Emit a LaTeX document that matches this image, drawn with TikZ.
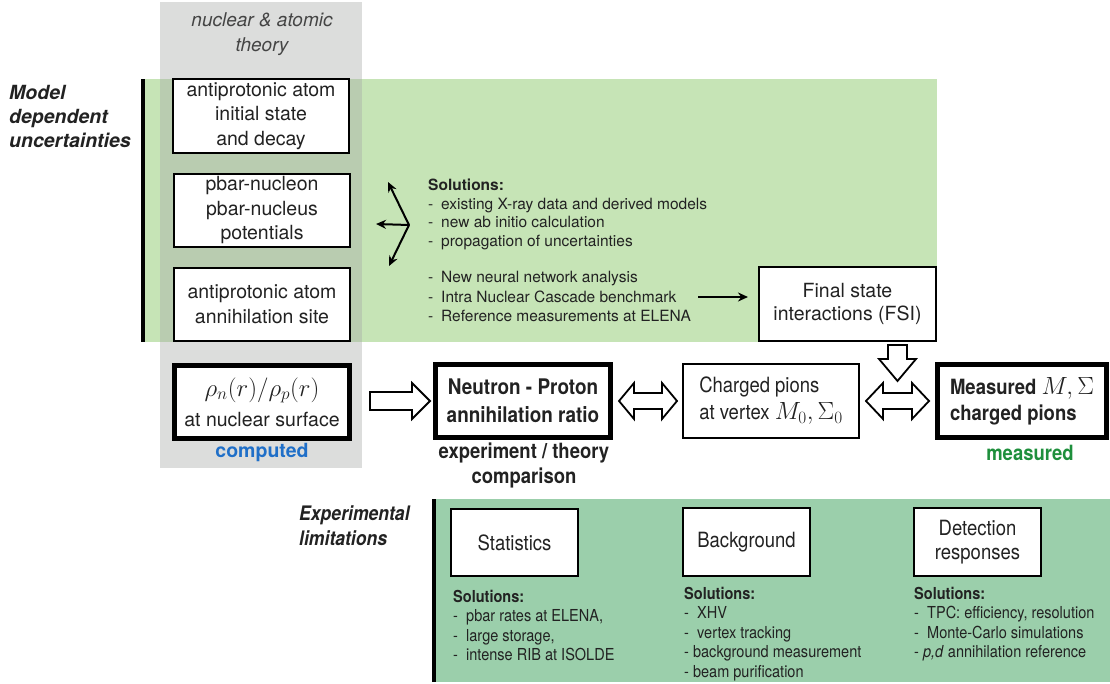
\documentclass[tikz,border=0pt]{standalone}
\usepackage{fontspec}
\setmainfont{TeX Gyre Heros}
\newfontfamily\narrowfont[FakeStretch=0.88]{TeX Gyre Heros}
\usetikzlibrary{arrows.meta,calc}
\definecolor{greyc}{HTML}{DCDDDC}
\definecolor{greentop}{HTML}{C6E4B6}
\definecolor{overlapc}{HTML}{B9CCB0}
\definecolor{greenbot}{HTML}{9BCFAB}
\definecolor{compblue}{HTML}{1F6FC8}
\definecolor{measgreen}{HTML}{1E8F3C}
\definecolor{txt}{HTML}{222222}
\definecolor{theorytxt}{HTML}{444444}
\newcommand\setfs[2]{\fontsize{#1}{#2}\selectfont}
\newcommand\dashitem[1]{\makebox[13pt][l]{-}#1}
\tikzset{
  thinbox/.style={draw=black, line width=2pt, fill=white, inner sep=0pt, align=center, text=txt},
  thickbox/.style={draw=black, line width=5pt, fill=white, inner sep=0pt, align=center, text=txt},
  blk/.style={draw=black, line width=1.8pt, fill=white, line join=miter},
  thinarr/.style={line width=2pt, -{Stealth[length=10pt,width=9pt]}},
  lbl/.style={inner sep=0pt, text=txt}
}
\begin{document}
\begin{tikzpicture}[x=1pt,y=-1pt]
\useasboundingbox (0,0) rectangle (1110,684);
% backgrounds
\fill[greyc] (160,2) rectangle (362,468);
\fill[greentop] (144,79) rectangle (937,342);
\fill[overlapc] (160,79) rectangle (362,342);
\fill[black] (141,79) rectangle (145,342);
\fill[greenbot] (436,499) rectangle (1110,682);
\fill[black] (432,499) rectangle (436,682);

% left labels
\node[lbl, anchor=west, align=left, font=\setfs{19.5}{24}\bfseries\itshape] (mdu) at (9,116) {Model\\dependent\\uncertainties};
\node[lbl, align=center, text=theorytxt, font=\setfs{19}{25}\itshape] (nat) at (262,34) {nuclear \& atomic\\theory};

% theory boxes
\node[thinbox, minimum width=176, minimum height=74, font=\setfs{19.5}{24.5}] (b1) at (261,116) {antiprotonic atom\\initial state\\and decay};
\node[thinbox, minimum width=176, minimum height=73, font=\setfs{19.5}{24.5}] (b2) at (262,210.5) {pbar-nucleon\\pbar-nucleus\\potentials};
\node[thinbox, minimum width=176, minimum height=73, font=\setfs{19.5}{24.5}] (b3) at (262,304.5) {antiprotonic atom\\annihilation site};
\node[thickbox, minimum width=175, minimum height=73, font=\setfs{19.5}{30}] (rho) at (262,402) {\fontsize{25}{30}\selectfont$\rho_n(r)/\rho_p(r)$\\at nuclear surface};
\node[lbl, text=compblue, font=\setfs{19.5}{24}\bfseries] (comp) at (262,453) {computed};

% top solutions
\coordinate (fork) at (409,225);
\coordinate (upend) at (388,182);
\coordinate (leftend) at (376,224);
\coordinate (downend) at (389,266);
\draw[thinarr] (fork) -- (upend);
\draw[thinarr] (fork) -- (leftend);
\draw[thinarr] (fork) -- (downend);
\node[lbl, anchor=base west, align=left, font=\setfs{15.5}{18.7}] (sol1) at (428,246.6)
  {\textbf{Solutions:}\\\dashitem{existing X-ray data and derived models}\\\dashitem{new ab initio calculation}\\\dashitem{propagation of uncertainties}};
\node[lbl, anchor=base west, align=left, font=\setfs{15.5}{19.5}] (sol2) at (428,321.5)
  {\dashitem{New neural network analysis}\\\dashitem{Intra Nuclear Cascade benchmark}\\\dashitem{Reference measurements at ELENA}};
\node[thinbox, minimum width=177, minimum height=74, font=\setfs{19.5}{23.5}] (fsi) at (847.5,304) {Final state\\interactions (FSI)};
\coordinate (intra) at (698,297);
\draw[thinarr, shorten >=10pt] (intra) -- (intra -| fsi.west);

% main row
\node[thickbox, minimum width=175, minimum height=73, font=\narrowfont\setfs{21.5}{28}\bfseries] (np) at (523,401) {Neutron - Proton\\annihilation ratio};
\node[lbl, align=center, font=\narrowfont\setfs{21}{25}\bfseries] (cmp) at (524,465) {experiment / theory\\comparison};
\node[thinbox, minimum width=176, minimum height=74, align=left, font=\narrowfont\setfs{21}{27}] (cp) at (771,401) {Charged pions\\at vertex {\fontsize{26}{27}\selectfont$M_0,\Sigma_0$}};
\node[thickbox, minimum width=169, minimum height=73, align=left, font=\narrowfont\setfs{21}{26}\bfseries] (ms) at (1022,401) {Measured {\fontsize{27}{26}\selectfont$M,\Sigma$}\\charged pions};
\node[lbl, text=measgreen, font=\narrowfont\setfs{21}{24}\bfseries] (meas) at (1030,453) {measured};

% block arrows
\draw[blk] let \p1=($(rho.east)+(18,-1)$), \p2=($(np.west)+(-3,-1)$) in
  (\x1,\y1+9pt) -- (\x2-18pt,\y1+9pt) -- (\x2-18pt,\y1+18pt) -- (\x2,\y1) -- (\x2-18pt,\y1-18pt) -- (\x2-18pt,\y1-9pt) -- (\x1,\y1-9pt) -- cycle;
\draw[blk] let \p1=($(np.east)+(6,0)$), \p2=($(cp.west)+(-5,0)$) in
  (\x1,\y1) -- (\x1+15pt,\y1+18pt) -- (\x1+15pt,\y1+8pt) -- (\x2-15pt,\y1+8pt) -- (\x2-15pt,\y1+18pt) -- (\x2,\y1)
  -- (\x2-15pt,\y1-18pt) -- (\x2-15pt,\y1-8pt) -- (\x1+15pt,\y1-8pt) -- (\x1+15pt,\y1-18pt) -- cycle;
\draw[blk] let \p1=($(cp.east)+(6,0)$), \p2=($(ms.west)+(-6,0)$) in
  (\x1,\y1) -- (\x1+17pt,\y1+18pt) -- (\x1+17pt,\y1+8pt) -- (\x2-17pt,\y1+8pt) -- (\x2-17pt,\y1+18pt) -- (\x2,\y1)
  -- (\x2-17pt,\y1-18pt) -- (\x2-17pt,\y1-8pt) -- (\x1+17pt,\y1-8pt) -- (\x1+17pt,\y1-18pt) -- cycle;
\draw[blk] let \p1=($(cp.east)!0.5!(ms.west)$), \p2=($(fsi.south)+(0,3)$), \p3=($(cp.north)+(0,18)$) in
  (\x1-9.5pt,\y2) -- (\x1+9.5pt,\y2) -- (\x1+9.5pt,\y3+22pt) -- (\x1+18.5pt,\y3+22pt) -- (\x1,\y3)
  -- (\x1-18.5pt,\y3+22pt) -- (\x1-9.5pt,\y3+22pt) -- cycle;

% bottom
\node[lbl, anchor=west, align=left, font=\narrowfont\setfs{20}{25}\bfseries\itshape] (exl) at (299,526) {Experimental\\limitations};
\node[thinbox, minimum width=127, minimum height=67, font=\narrowfont\setfs{21}{24}] (stat) at (514.5,542.5) {Statistics};
\node[thinbox, minimum width=127, minimum height=68, font=\narrowfont\setfs{21}{24}] (bg) at (746.5,542) {Background};
\node[thinbox, minimum width=127, minimum height=68, font=\narrowfont\setfs{21}{24}] (det) at (977.5,542) {Detection\\responses};

\node[lbl, anchor=base west, align=left, font=\narrowfont\setfs{16.5}{19.5}] (ssol) at (453,660.5)
  {\textbf{Solutions:}\\\dashitem{pbar rates at ELENA,}\\\dashitem{large storage,}\\\dashitem{intense RIB at ISOLDE}};
\node[lbl, anchor=base west, align=left, font=\narrowfont\setfs{16.5}{19.5}] (bsol) at (684,677)
  {\textbf{Solutions:}\\\dashitem{XHV}\\\dashitem{vertex tracking}\\- background measurement\\- beam purification};
\node[lbl, anchor=base west, align=left, font=\narrowfont\setfs{16.5}{19.5}] (dsol) at (914,657.5)
  {\textbf{Solutions:}\\\dashitem{TPC: efficiency, resolution}\\\dashitem{Monte-Carlo simulations}\\- \textit{p,d} annihilation reference};
\end{tikzpicture}
\end{document}
